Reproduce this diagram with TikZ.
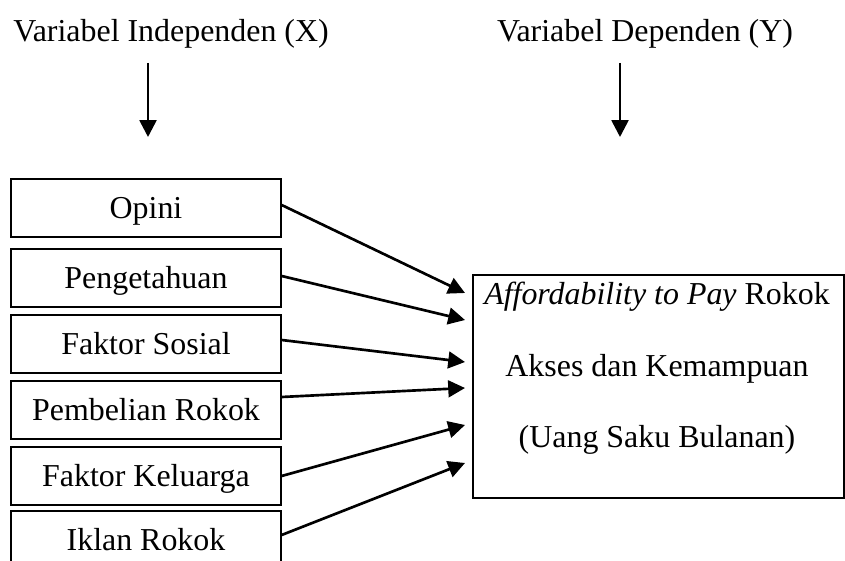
\documentclass[tikz,border=0pt]{standalone}
\usepackage{fontspec}
\setmainfont{Liberation Serif}
\usetikzlibrary{arrows.meta,calc}

\newcommand{\pxu}{0.376pt}

\tikzset{
  varbox/.style={draw, line width=0.5pt, minimum width=270*\pxu, minimum height=58*\pxu,
                 inner sep=0pt, text height=9pt, text depth=1.1pt},
  pengaruh/.style={-{Triangle[length=6.3pt,width=6.3pt]}, line width=1pt},
}

\begin{document}
\begin{tikzpicture}[x=\pxu, y=-\pxu, font=\fontsize{12}{14}\selectfont]

        % Bingkai
        \useasboundingbox (0,0) rectangle (845,561);
        \clip (0,0) rectangle (845,561);

        % Judul variabel
        \node[anchor=base] (judulX) at (171,42) {Variabel Independen (X)};
        \node[anchor=base] (judulY) at (645,42) {Variabel Dependen (Y)};

        \coordinate (awalX) at (148,63);
        \coordinate (ujungX) at (148,137);
        \coordinate (awalY) at (620,63);
        \coordinate (ujungY) at (620,137);
        \draw[pengaruh] (awalX) -- (ujungX);
        \draw[pengaruh] (awalY) -- (ujungY);

        % Variabel independen
        \foreach \nama/\y/\teks in {opini/208/Opini, tahu/278/Pengetahuan, sosial/344/Faktor Sosial,
                                    beli/410/Pembelian Rokok, keluarga/476/Faktor Keluarga, iklan/540/Iklan Rokok} {
            \node[varbox] (\nama) at (146,\y) {\teks};
        }

        % Variabel dependen
        \node[draw, line width=0.8pt, minimum width=371*\pxu, minimum height=223*\pxu,
              inner sep=0pt, anchor=north west] (afford) at (472,274) {};
        \node[anchor=base] (afford1) at (657,305) {\textit{Affordability to Pay} Rokok};
        \node[anchor=base] (afford2) at (657,377) {Akses dan Kemampuan};
        \node[anchor=base] (afford3) at (657,448) {(Uang Saku Bulanan)};

        % Panah pengaruh
        \foreach \nama/\ya/\yb in {opini/-3/293, tahu/-2/320, sosial/-4/362,
                                   beli/-13/388, keluarga/0/425, iklan/-5/463} {
            \coordinate (ujung\nama) at (465,\yb);
            \draw[pengaruh] ($(\nama.east)+(0,\ya)$) -- (ujung\nama);
        }

\end{tikzpicture}
\end{document}
